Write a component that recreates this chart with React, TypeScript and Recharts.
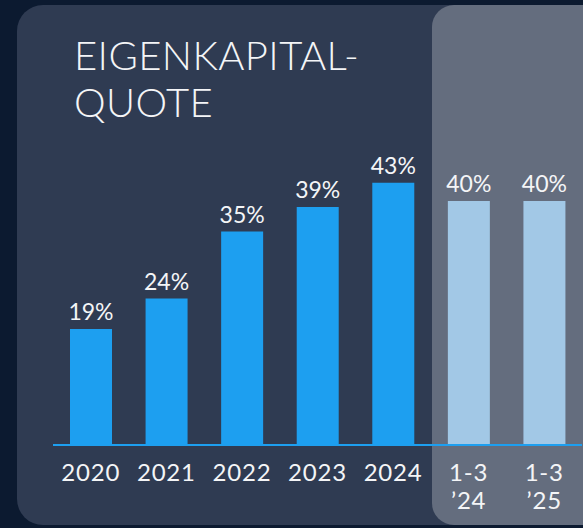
import React from "react"
import { BarChart, Bar, XAxis, YAxis, LabelList, Cell } from "recharts"

const periods = ["2020", "2021", "2022", "2023", "2024", "1-3\n’24", "1-3\n’25"]
const ratios = [19, 24, 35, 39, 43, 40, 40]
const interim = [false, false, false, false, false, true, true]

const data = periods.map((p, i) => ({ period: p, ratio: ratios[i], interim: interim[i] }))

const FONT = "Lato, 'Open Sans', sans-serif"
const BLUE = "#1d9ff0"
const LIGHT = "#a2c8e6"

function PeriodTick(props: any) {
  const { x, y, payload } = props
  const lines = String(payload.value).split("\n")
  return (
    <text x={x} y={y} textAnchor="middle" fill="#f4f5f7" fontSize={24} fontFamily={FONT} letterSpacing={0.8}>
      {lines.map((l, i) => (
        <tspan key={i} x={x} dy={i === 0 ? 28 : 28}>
          {l}
        </tspan>
      ))}
    </text>
  )
}

export default function App() {
  return (
    <div
      style={{
        position: "absolute",
        left: 0,
        top: 0,
        width: 583,
        height: 528,
        background: "#0c1a30",
        overflow: "hidden",
        fontFamily: FONT,
      }}
    >
      <div
        style={{
          position: "absolute",
          left: 17,
          top: 5,
          width: 620,
          height: 520,
          background: "#2f3b52",
          borderRadius: 26,
        }}
      />
      <div
        style={{
          position: "absolute",
          left: 432,
          top: 5,
          width: 200,
          height: 520,
          background: "#646d7e",
          borderRadius: 22,
        }}
      />
      <div
        style={{
          position: "absolute",
          left: 74,
          top: 32,
          color: "#f4f5f7",
          fontSize: 40,
          fontWeight: 300,
          lineHeight: "47px",
          letterSpacing: 0.4,
        }}
      >
        EIGENKAPITAL-
        <br />
        QUOTE
      </div>
      <div style={{ position: "absolute", left: 0, top: 0 }}>
        <BarChart
          width={583}
          height={528}
          data={data}
          margin={{ top: 140, right: 1, left: 53, bottom: 0 }}
          barSize={42}
        >
          <YAxis hide domain={[0, 50]} />
          <XAxis
            dataKey="period"
            height={83}
            axisLine={{ stroke: BLUE, strokeWidth: 2 }}
            tickLine={false}
            tick={<PeriodTick />}
            interval={0}
          />
          <Bar dataKey="ratio" isAnimationActive={false}>
            {data.map((d, i) => (
              <Cell key={i} fill={d.interim ? LIGHT : BLUE} />
            ))}
            <LabelList
              dataKey="ratio"
              position="top"
              offset={9}
              formatter={(v: any) => `${v}%`}
              fill="#f4f5f7"
              fontSize={23}
              fontFamily={FONT}
            />
          </Bar>
        </BarChart>
      </div>
    </div>
  )
}
